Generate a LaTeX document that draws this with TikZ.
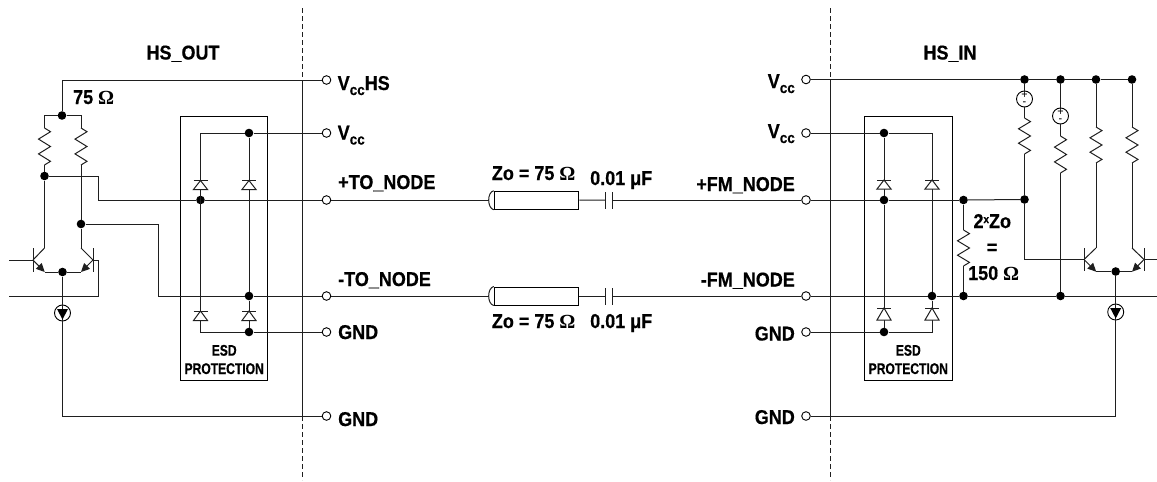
\documentclass[tikz,border=0pt]{standalone}
\usepackage{fontspec}
\usetikzlibrary{arrows.meta}
\setmainfont[FakeStretch=0.9,BoldFont={Liberation Sans Bold},BoldFeatures={FakeBold=0.5}]{Liberation Sans}
\newfontfamily\omfont{Liberation Serif Bold}
\newfontfamily\esdfont[FakeStretch=0.78,FakeBold=0.5]{Liberation Sans Bold}
\newcommand{\Om}{{\omfont Ω}}
\newcommand{\vcc}{V\raisebox{-5pt}{\fontsize{15}{15}\selectfont cc}}
\tikzset{
  wire/.style={line width=1pt,black!88},
  dotn/.style={circle,fill=black,inner sep=0pt,minimum size=8.6pt},
  term/.style={circle,draw=black,line width=.9pt,fill=white,inner sep=0pt,minimum size=8.6pt},
  lab/.style={font=\fontsize{20}{20}\selectfont\bfseries,inner sep=0pt},
  esdlab/.style={font=\fontsize{15.5}{18}\selectfont\esdfont,inner sep=0pt,align=center},
  boxn/.style={draw=black,line width=1pt,fill=none,inner sep=0pt},
  coaxn/.style={draw=black,line width=1pt,fill=white,inner sep=0pt,minimum width=84.5pt,minimum height=18pt},
  src/.style={circle,draw=black,line width=.9pt,fill=white,inner sep=0pt,minimum size=16pt},
  sgn/.style={font=\fontsize{12}{7}\selectfont,inner sep=0pt,align=center},
  tip/.style={-{Triangle[length=8.5pt,width=8pt]}}
}
% resistor: x, top y, bottom y (wire zigzag)
\newcommand{\resis}[3]{%
  \pgfmathsetmacro{\hh}{(#3-#2)/5}%
  \draw[wire] (#1,#2) -- ++(6,\hh/2) -- ++(-12,\hh) -- ++(12,\hh) -- ++(-12,\hh) -- ++(12,\hh) -- (#1,#3);}
% diode: x, bar y, base y
\newcommand{\diode}[3]{%
  \draw[wire,fill=white] (#1,#2) -- (#1-7,#3) -- (#1+7,#3) -- cycle;
  \draw[wire] (#1-7,#2) -- (#1+7,#2);}
% current source triangle
\newcommand{\ctri}[2]{\fill[black] (#1-5.5,#2-4) -- (#1+5.5,#2-4) -- (#1,#2+6.5) -- cycle;}
\begin{document}
\begin{tikzpicture}[x=1pt,y=-1pt]
\useasboundingbox (0,0) rectangle (1157,482);
% boundaries
\draw[wire,dash pattern=on 5pt off 3pt] (302.7,8) coordinate (bla) -- (302.7,80) coordinate (blb);
\draw[wire] (blb) -- (302.7,416) coordinate (blc);
\draw[wire,dash pattern=on 5pt off 3pt] (blc) -- (302.7,480);
\draw[wire,dash pattern=on 5pt off 3pt] (830,8) coordinate (bra) -- (830,80) coordinate (brb);
\draw[wire] (brb) -- (830,416) coordinate (brc);
\draw[wire,dash pattern=on 5pt off 3pt] (brc) -- (830,480);
% ESD boxes
\node[boxn,minimum width=87.5pt,minimum height=264pt] (esdl) at (224.2,248) {};
\node[boxn,minimum width=87.5pt,minimum height=264pt] (esdr) at (908.3,248) {};
% junction dots
\node[dotn] (d1) at (62,115.5) {};
\node[dotn] (d2) at (44.5,176) {};
\node[dotn] (d3) at (81,224) {};
\node[dotn] (d4) at (62.5,272) {};
\node[dotn] (d5) at (200.5,200) {};
\node[dotn] (d6) at (249,133) {};
\node[dotn] (d7) at (249,296) {};
\node[dotn] (d8) at (249,332) {};
\node[dotn] (e1) at (884,133) {};
\node[dotn] (e2) at (884,200) {};
\node[dotn] (e3) at (932,296) {};
\node[dotn] (e4) at (884,332) {};
\node[dotn] (e5) at (963.5,200) {};
\node[dotn] (e6) at (963.5,296) {};
\node[dotn] (e7) at (1024.5,199.5) {};
\node[dotn] (e8) at (1060.5,296) {};
\node[dotn] (e9) at (1024.5,79.5) {};
\node[dotn] (e10) at (1060.5,79.5) {};
\node[dotn] (e11) at (1096,79.5) {};
\node[dotn] (e12) at (1132,79.5) {};
\node[dotn] (e13) at (1115.7,271.5) {};
% terminals
\node[term] (tl1) at (326.5,80) {};
\node[term] (tl2) at (326.5,133) {};
\node[term] (tl3) at (326.5,200) {};
\node[term] (tl4) at (326.5,296) {};
\node[term] (tl5) at (326.5,332) {};
\node[term] (tl6) at (326.5,416) {};
\node[term] (tr1) at (806,79.5) {};
\node[term] (tr2) at (806,133) {};
\node[term] (tr3) at (806,200) {};
\node[term] (tr4) at (806,296) {};
\node[term] (tr5) at (806,332) {};
\node[term] (tr6) at (806,416) {};
% left side wires
\draw[wire] (tl1) -- (62,80) -- (d1);
\draw[wire] (44.5,128) -- (44.5,115.5) -- (d1) -- (81,115.5) -- (81,128);
\resis{44.5}{128}{165}
\resis{81}{128}{165}
\draw[wire] (44.5,165) -- (d2);
\draw[wire] (d2) -- (44.5,248) coordinate (qlc);
\draw[wire] (81,165) -- (d3);
\draw[wire] (d3) -- (81,248) coordinate (qrc);
\draw[wire] (d2) -- (98.5,176) -- (98.5,200) -- (d5);
\draw[wire] (d5) -- (tl3);
\draw[wire] (d3) -- (158.5,224) -- (158.5,296) -- (d7);
\draw[wire] (d7) -- (tl4);
% transistors left
\draw[wire] (33,248) -- (33,272);
\draw[wire] (9,260) -- (33,260);
\draw[wire] (qlc) -- (33,260);
\draw[wire,tip] (33,260) -- (44.7,272);
\draw[wire] (93,248) -- (93,272);
\draw[wire] (qrc) -- (93,260);
\draw[wire,tip] (93,260) -- (81,272);
\draw[wire] (44.5,272) -- (d4) -- (81,272);
\draw[wire] (93,260) -- (98.5,260) -- (98.5,296) -- (9,296);
% current source left
\node[src] (cs1) at (62.5,313) {};
\draw[wire] (d4) -- (cs1);
\draw[wire] (cs1) -- (62.5,416) -- (tl6);
\draw[wire] (cs1.north) -- (cs1.south);
\ctri{62.5}{313}
% left ESD
\draw[wire] (tl2) -- (d6);
\draw[wire] (d6) -- (200.5,133) -- (200.5,180);
\draw[wire] (d6) -- (d7);
\draw[wire] (d5) -- (200.5,189);
\draw[wire] (200.5,189) -- (200.5,332) -- (d8);
\draw[wire] (d7) -- (d8);
\draw[wire] (d8) -- (tl5);
\diode{200.5}{180.5}{189.5}
\diode{249}{180.5}{189.5}
\diode{200.5}{311}{320.5}
\diode{249}{311}{320.5}
% transmission lines
\node[coaxn] (cx1) at (536.5,200.3) {};
\node[coaxn] (cx2) at (536.5,296) {};
\draw[wire] (cx1.north west) .. controls (487,192) and (487,208) .. (cx1.south west);
\draw[wire] (cx2.north west) .. controls (487,288) and (487,304) .. (cx2.south west);
\coordinate (cx1l) at (488.5,200);
\coordinate (cx2l) at (488.5,296);
\draw[wire] (tl3) -- (cx1l);
\draw[wire] (tl4) -- (cx2l);
\coordinate (c1a) at (605.7,200);
\coordinate (c1b) at (612,200);
\coordinate (c2a) at (605.7,296);
\coordinate (c2b) at (612,296);
\draw[wire] (cx1) -- (c1a);
\draw[wire] (cx2) -- (c2a);
\draw[wire] (c1b) -- (tr3);
\draw[wire] (c2b) -- (tr4);
\draw[wire] ([yshift=-8.5pt]c1a) -- ([yshift=8.5pt]c1a);
\draw[wire] ([yshift=-8.5pt]c1b) -- ([yshift=8.5pt]c1b);
\draw[wire] ([yshift=-8.5pt]c2a) -- ([yshift=8.5pt]c2a);
\draw[wire] ([yshift=-8.5pt]c2b) -- ([yshift=8.5pt]c2b);
% right ESD
\draw[wire] (tr2) -- (e1);
\draw[wire] (e1) -- (932,133) -- (932,180);
\draw[wire] (e1) -- (e2);
\draw[wire] (tr3) -- (e2);
\draw[wire] (e2) -- (e5);
\draw[wire] (e2) -- (e4);
\draw[wire] (tr5) -- (e4);
\draw[wire] (e4) -- (932,332) -- (e3);
\draw[wire] (932,180) -- (e3);
\draw[wire] (tr4) -- (e3);
\draw[wire] (e3) -- (e6);
\diode{884}{180}{189}
\diode{932}{180}{189}
\diode{884}{308}{320}
\diode{932}{308}{320}
% termination
\draw[wire] (e5) -- (963.5,230);
\resis{963.5}{230}{266}
\draw[wire] (963.5,266) -- (e6);
\draw[wire] (e5) -- (e7);
% right rail
\draw[wire] (tr1) -- (e9);
\draw[wire] (e9) -- (e10);
\draw[wire] (e10) -- (e11);
\draw[wire] (e11) -- (e12);
% source branches
\node[src,sgn] (v1) at (1024.5,99) {+\\-};
\node[src,sgn] (v2) at (1060.5,116) {+\\-};
\draw[wire] (e9) -- (v1);
\draw[wire] (e10) -- (v2);
\draw[wire] (v1) -- (1024.5,118);
\resis{1024.5}{118}{154}
\draw[wire] (1024.5,154) -- (e7);
\draw[wire] (v2) -- (1060.5,136);
\resis{1060.5}{136}{173}
\draw[wire] (1060.5,173) -- (e8);
\draw[wire] (e11) -- (1096,127);
\resis{1096}{127}{163}
\draw[wire] (1096,163) -- (1096,248) coordinate (qtc);
\draw[wire] (e12) -- (1132,127);
\resis{1132}{127}{163}
\draw[wire] (1132,163) -- (1132,248) coordinate (qsc);
% right transistors
\draw[wire] (e7) -- (1024.5,259.5) -- (1084,259.5) coordinate (qtb);
\draw[wire] (1084,248) -- (1084,271);
\draw[wire] (qtc) -- (qtb);
\draw[wire,tip] (qtb) -- (1096.2,271.7);
\draw[wire] (1144,248) -- (1144,271);
\draw[wire] (1157,259.5) -- (1144,259.5) coordinate (qsb);
\draw[wire] (qsc) -- (qsb);
\draw[wire,tip] (qsb) -- (1132,271.7);
\draw[wire] (1096,271.5) -- (e13) -- (1132,271.5);
\draw[wire] (e6) -- (e8);
\draw[wire] (e8) -- (1157,296);
\node[src] (cs2) at (1115.7,312) {};
\draw[wire] (e13) -- (cs2);
\draw[wire] (cs2) -- (1115.7,416) -- (tr6);
\draw[wire] (cs2.north) -- (cs2.south);
\ctri{1115.7}{312}
% labels
\node[lab,anchor=base] (n1) at (183,59.5) {HS\_OUT};
\node[lab,anchor=base] (n2) at (950,59.5) {HS\_IN};
\node[lab,anchor=base west] (n3) at (73,104) {75 \Om};
\node[lab,anchor=base west] (n4) at (337.5,90) {\vcc HS};
\node[lab,anchor=base west] (n5) at (337.5,139.5) {\vcc};
\node[lab,anchor=base west] (n6) at (338,189) {+TO\_NODE};
\node[lab,anchor=base west] (n7) at (338,286) {-TO\_NODE};
\node[lab,anchor=base west] (n8) at (338,339) {GND};
\node[lab,anchor=base west] (n9) at (338,426) {GND};
\node[lab,anchor=base east] (n10) at (795,88) {\vcc};
\node[lab,anchor=base east] (n11) at (795,138) {\vcc};
\node[lab,anchor=base east] (n12) at (795,191) {+FM\_NODE};
\node[lab,anchor=base east] (n13) at (795,286.5) {-FM\_NODE};
\node[lab,anchor=base east] (n14) at (795,340.5) {GND};
\node[lab,anchor=base east] (n15) at (795,424) {GND};
\node[lab,anchor=base west] (n16) at (491.7,180) {Zo = 75 \Om};
\node[lab,anchor=base west] (n17) at (590,185) {0.01 μF};
\node[lab,anchor=base west] (n18) at (491.7,328) {Zo = 75 \Om};
\node[lab,anchor=base west] (n19) at (590,328) {0.01 μF};
\node[esdlab,anchor=base] (n20) at (224.2,355.7) {ESD};
\node[esdlab,anchor=base] (n21) at (224.2,374) {PROTECTION};
\node[esdlab,anchor=base] (n22) at (908.3,355.7) {ESD};
\node[esdlab,anchor=base] (n23) at (908.3,374) {PROTECTION};
\node[lab,anchor=base west] (n24) at (973.3,228) {2\raisebox{5pt}{\fontsize{11}{11}\selectfont x}Zo};
\node[lab,anchor=base] (n25) at (992,254) {=};
\node[lab,anchor=base west] (n26) at (968,280) {150 \Om};
\end{tikzpicture}
\end{document}
